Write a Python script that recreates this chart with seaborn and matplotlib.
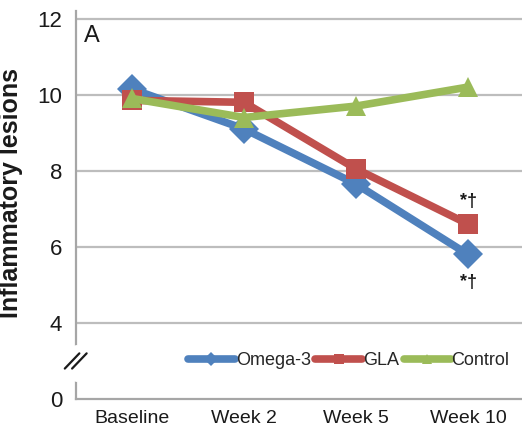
import matplotlib
matplotlib.use("Agg")
import matplotlib.pyplot as plt
from matplotlib import font_manager
import seaborn as sns
import pandas as pd

# Study visits and mean lesion counts per group
visits = ["Baseline", "Week 2", "Week 5", "Week 10"]
omega3 = [10.15, 9.1, 7.65, 5.8]
gla = [9.85, 9.8, 8.05, 6.6]
control = [9.9, 9.4, 9.7, 10.2]
groups = ["Omega-3", "GLA", "Control"]
ytick_values = [2, 4, 6, 8, 10, 12]
ytick_labels = ["0", "4", "6", "8", "10", "12"]
sig_mark = "*†"

colors = {"Omega-3": "#4F81BD", "GLA": "#C0504D", "Control": "#9BBB59"}
markers = {"Omega-3": "D", "GLA": "s", "Control": "^"}

sns.set_theme(style="white")
names = {f.name for f in font_manager.fontManager.ttflist}
narrow = "Liberation Sans Narrow" if "Liberation Sans Narrow" in names else "Liberation Sans"
plt.rcParams["font.family"] = [narrow, "DejaVu Sans"]

rows = []
for g, vals in zip(groups, [omega3, gla, control]):
    for i, v in enumerate(vals):
        rows.append({"pos": i, "lesions": v, "group": g})
df = pd.DataFrame(rows)

fig = plt.figure(figsize=(5.22, 4.32), dpi=100)
ax = fig.add_axes([76 / 522, 1 - 399 / 432, 448 / 522, (399 - 11) / 432])

sns.lineplot(data=df, x="pos", y="lesions", hue="group", style="group",
             palette=colors, markers=markers, dashes=False, linewidth=5.5,
             markersize=15, markeredgewidth=0, ax=ax, legend=True,
             hue_order=groups, style_order=groups)

ax.set_xlim(-0.5, 3.5)
ax.set_ylim(2, 12.2)
ax.set_yticks(ytick_values)
ax.set_yticklabels(ytick_labels)
ax.set_xticks(range(len(visits)))
ax.set_xticklabels(visits)
ax.set_xticks([0.5, 1.5, 2.5], minor=True)
ax.tick_params(axis="x", which="major", length=0, labelsize=14, pad=8)
ax.tick_params(axis="x", which="minor", length=7, width=1.3, color="#A6A6A6")
ax.tick_params(axis="y", length=7, width=1.3, color="#A6A6A6", labelsize=16, pad=3)
for lbl in ax.get_xticklabels() + ax.get_yticklabels():
    lbl.set_color("#1a1a1a")

for y in ytick_values[1:]:
    ax.axhline(y, color="#BDBDBD", lw=1.6, zorder=0)

for side in ["top", "right"]:
    ax.spines[side].set_visible(False)
for side in ["left", "bottom"]:
    ax.spines[side].set_color("#A6A6A6")
    ax.spines[side].set_linewidth(1.6)

ax.set_xlabel("")
ax.set_ylabel("Inflammatory lesions", fontsize=18, fontweight="bold",
              family=["Liberation Sans", "DejaVu Sans"], color="#1a1a1a")
ax.yaxis.set_label_coords(-0.118, 0.53)

# axis break between 0 and 4
ax.plot([-0.5, -0.5], [2.55, 3.35], color="white", lw=5, clip_on=False, zorder=5)
for dx in (-0.03, 0.035):
    ax.plot([-0.57 + dx, -0.44 + dx], [2.8, 3.2], color="#1a1a1a", lw=1.6,
            clip_on=False, zorder=6)

ax.text(-0.43, 11.55, "A", fontsize=17, color="#1a1a1a", ha="left", va="center")

ax.text(3.0, gla[3] + 0.6, sig_mark, fontsize=13, fontweight="bold",
        ha="center", va="center", color="#1a1a1a")
ax.text(3.0, omega3[3] - 0.75, sig_mark, fontsize=13, fontweight="bold",
        ha="center", va="center", color="#1a1a1a")

leg = ax.legend(loc="center left", ncol=3, frameon=False, fontsize=13, handlelength=2.6,
                handletextpad=0.05, columnspacing=0.25, borderaxespad=0, borderpad=0)
leg.set_bbox_to_anchor((0.5, 3.0), transform=ax.transData)
for h in leg.legend_handles:
    h.set_markersize(7)

fig.savefig("out.png", dpi=100)
